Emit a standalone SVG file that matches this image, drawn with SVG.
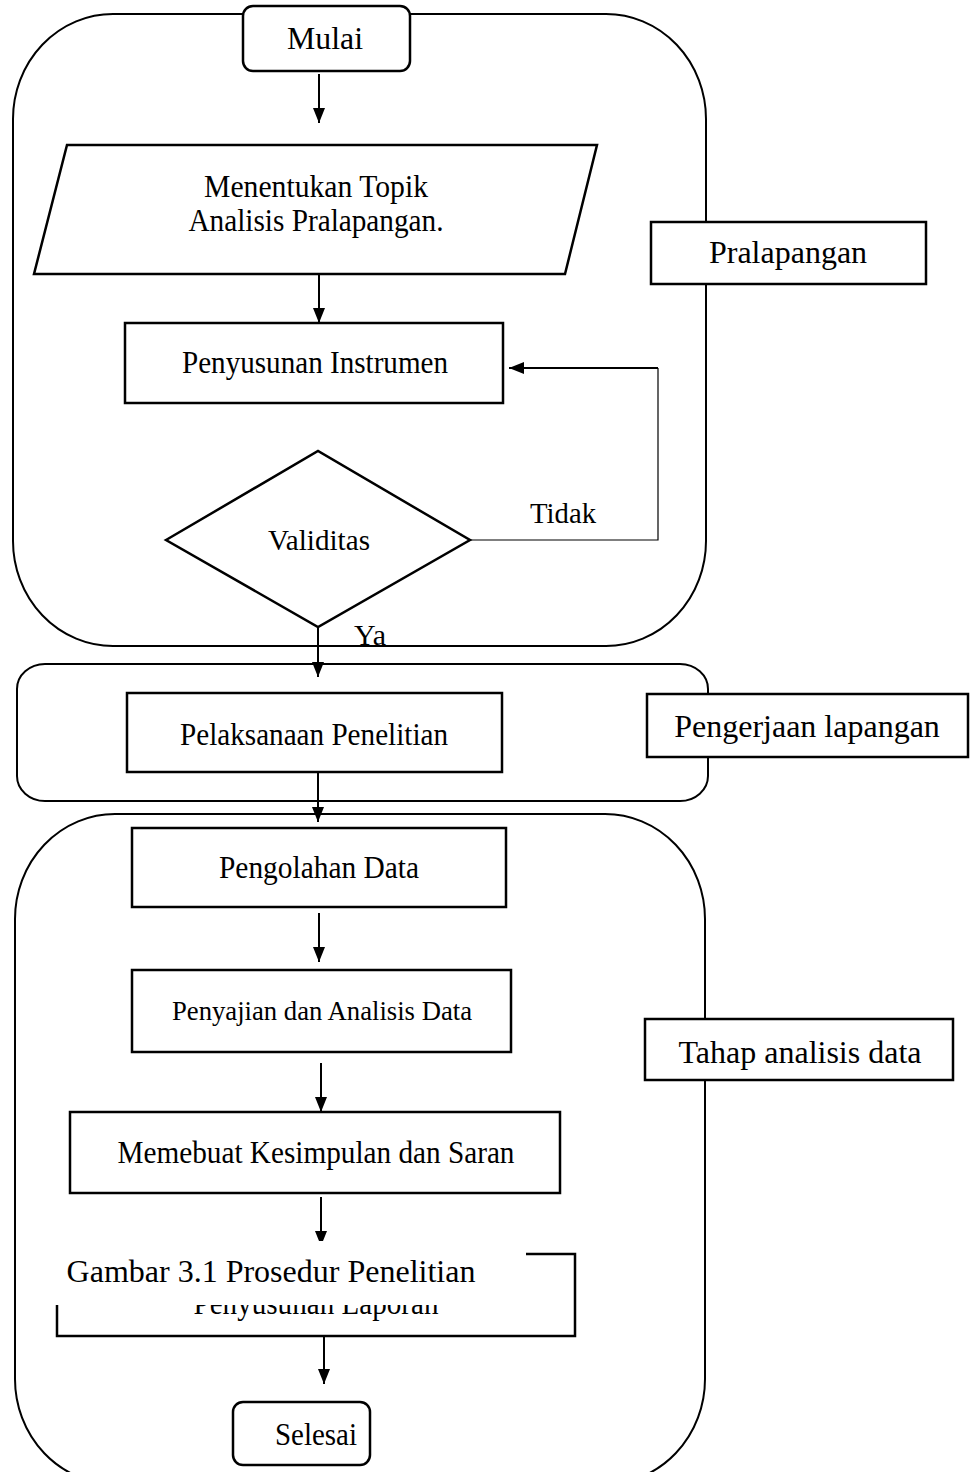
<svg xmlns="http://www.w3.org/2000/svg" width="973" height="1472" viewBox="0 0 973 1472">
<style>
.c{fill:none;stroke:#000;stroke-width:2}
.n{fill:#fff;stroke:#000;stroke-width:2.5}
.t{font-family:"Liberation Serif","Times New Roman",serif;fill:#000;text-anchor:middle}
.f31{font-size:31.5px}
.f32{font-size:32px}
.ln{fill:none;stroke:#000;stroke-width:2}
.thin{fill:none;stroke:#000;stroke-width:1.2}
</style>
<defs>
<marker id="ah" viewBox="0 0 15 12" refX="15" refY="6" markerWidth="15" markerHeight="12" markerUnits="userSpaceOnUse" orient="auto">
<path d="M0,0 L15,6 L0,12 Z" fill="#000"/>
</marker>
</defs>
<rect width="973" height="1472" fill="#fff"/>

<g id="containers">
<rect id="phase1" class="c" x="13" y="14" width="693" height="632" rx="100" ry="105"/>
<rect id="phase2" class="c" x="17" y="664" width="691" height="137" rx="28" ry="25"/>
<rect id="phase3" class="c" x="15" y="814" width="690" height="670" rx="100" ry="105"/>
</g>

<g id="connectors">
<line class="ln" x1="319" y1="74" x2="319" y2="123" marker-end="url(#ah)"/>
<line class="ln" x1="319" y1="274" x2="319" y2="323" marker-end="url(#ah)"/>
<polyline class="thin" points="470,540 658,540 658,368"/>
<line class="ln" x1="658" y1="368" x2="509" y2="368" marker-end="url(#ah)"/>
<line class="ln" x1="318" y1="627" x2="318" y2="677" marker-end="url(#ah)"/>
<line class="ln" x1="318" y1="772" x2="318" y2="822" marker-end="url(#ah)"/>
<line class="ln" x1="319" y1="913" x2="319" y2="962" marker-end="url(#ah)"/>
<line class="ln" x1="321" y1="1063" x2="321" y2="1112" marker-end="url(#ah)"/>
<line class="ln" x1="321" y1="1197" x2="321" y2="1246" marker-end="url(#ah)"/>
<line class="ln" x1="324" y1="1336" x2="324" y2="1384" marker-end="url(#ah)"/>
<text class="t" x="563" y="523" font-size="29" textLength="66" lengthAdjust="spacingAndGlyphs">Tidak</text>
<text class="t" x="370" y="645" font-size="29" textLength="32" lengthAdjust="spacingAndGlyphs">Ya</text>
</g>

<g id="mulai">
<rect class="n" x="243" y="6" width="167" height="65" rx="10"/>
<text class="t" x="325" y="49" font-size="32" textLength="76" lengthAdjust="spacingAndGlyphs">Mulai</text>
</g>

<g id="topik">
<polygon class="n" points="67,145 597,145 565,274 34,274"/>
<text class="t f31" x="316" y="197" textLength="224" lengthAdjust="spacingAndGlyphs">Menentukan Topik</text>
<text class="t f31" x="316" y="231" textLength="255" lengthAdjust="spacingAndGlyphs">Analisis Pralapangan.</text>
</g>

<g id="instrumen">
<rect class="n" x="125" y="323" width="378" height="80"/>
<text class="t f31" x="315" y="373" textLength="266" lengthAdjust="spacingAndGlyphs">Penyusunan Instrumen</text>
</g>

<g id="validitas">
<polygon class="n" points="166,540 318,451 470,540 318,627"/>
<text class="t" x="319" y="550" font-size="29" textLength="102" lengthAdjust="spacingAndGlyphs">Validitas</text>
</g>

<g id="pelaksanaan">
<rect class="n" x="127" y="693" width="375" height="79"/>
<text class="t f31" x="314" y="745" textLength="268" lengthAdjust="spacingAndGlyphs">Pelaksanaan Penelitian</text>
</g>

<g id="pengolahan">
<rect class="n" x="132" y="828" width="374" height="79"/>
<text class="t f31" x="319" y="878" textLength="200" lengthAdjust="spacingAndGlyphs">Pengolahan Data</text>
</g>

<g id="penyajian">
<rect class="n" x="132" y="970" width="379" height="82"/>
<text class="t" x="322" y="1020" font-size="28" textLength="300" lengthAdjust="spacingAndGlyphs">Penyajian dan Analisis Data</text>
</g>

<g id="kesimpulan">
<rect class="n" x="70" y="1112" width="490" height="81"/>
<text class="t f31" x="316" y="1163" textLength="397" lengthAdjust="spacingAndGlyphs">Memebuat Kesimpulan dan Saran</text>
</g>

<g id="laporan">
<rect class="n" x="57" y="1254" width="518" height="82"/>
<text class="t f31" x="316" y="1314" textLength="245" lengthAdjust="spacingAndGlyphs">Penyusunan Laporan</text>
</g>

<g id="caption">
<rect x="50" y="1241" width="476" height="64" fill="#fff"/>
<text class="t f32" x="271" y="1282">Gambar 3.1 Prosedur Penelitian</text>
</g>

<g id="selesai">
<rect class="n" x="233" y="1402" width="137" height="63" rx="10"/>
<text class="t f31" x="316" y="1445" textLength="82" lengthAdjust="spacingAndGlyphs">Selesai</text>
</g>

<g id="label-pralapangan">
<rect class="n" x="651" y="222" width="275" height="62"/>
<text class="t f32" x="788" y="263">Pralapangan</text>
</g>

<g id="label-pengerjaan">
<rect class="n" x="647" y="694" width="321" height="63"/>
<text class="t f32" x="807" y="737">Pengerjaan lapangan</text>
</g>

<g id="label-tahap">
<rect class="n" x="645" y="1019" width="308" height="61"/>
<text class="t f32" x="800" y="1063">Tahap analisis data</text>
</g>
</svg>
